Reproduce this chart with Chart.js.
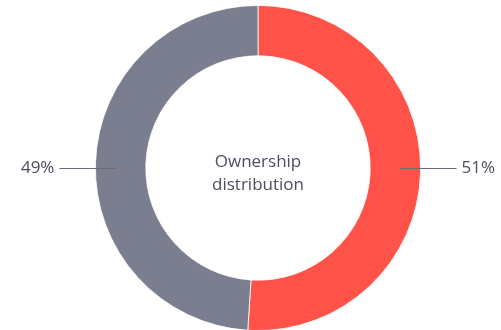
<!DOCTYPE html>
<html>
<head>
<meta charset="utf-8">
<script src="https://cdn.jsdelivr.net/npm/chart.js@4.4.1/dist/chart.umd.min.js"></script>
<style>
  html, body { margin: 0; padding: 0; background: #fff; overflow: hidden; }
  #wrap { width: 501px; height: 340px; position: relative; }
</style>
</head>
<body>
<div id="wrap"><canvas id="ownershipChart"></canvas></div>
<script>
const categories = ['Owner A', 'Owner B'];
const shares = [51, 49];
const sliceColors = ['#ff5249', '#7b7e8f'];
const centerLines = ['Ownership', 'distribution'];

const textColor = '#4d4d62';
const fontFamily = '"Open Sans", "Noto Sans", sans-serif';

// leader lines + percentage labels, drawn horizontally from the ring
const sideLabels = {
  id: 'sideLabels',
  afterDatasetsDraw(chart) {
    const { ctx } = chart;
    const meta = chart.getDatasetMeta(0);
    ctx.save();
    meta.data.forEach((arc, i) => {
      const { x, y, startAngle, endAngle, innerRadius, outerRadius } = arc.getProps(
        ['x', 'y', 'startAngle', 'endAngle', 'innerRadius', 'outerRadius'], true);
      const mid = (startAngle + endAngle) / 2;
      const side = Math.cos(mid) >= 0 ? 1 : -1;
      const r0 = innerRadius + (outerRadius - innerRadius) * 0.58;
      const r1 = outerRadius + 36;
      ctx.strokeStyle = '#6b6b7a';
      ctx.lineWidth = 1;
      ctx.beginPath();
      ctx.moveTo(x + side * r0, y + 0.5);
      ctx.lineTo(x + side * r1, y + 0.5);
      ctx.stroke();
      ctx.fillStyle = textColor;
      ctx.font = '17px ' + fontFamily;
      ctx.textBaseline = 'middle';
      ctx.textAlign = side > 0 ? 'left' : 'right';
      ctx.fillText(shares[i] + '%', x + side * (r1 + 5), y);
    });
    ctx.restore();
  }
};

const centerText = {
  id: 'centerText',
  afterDraw(chart) {
    const { ctx } = chart;
    const arc = chart.getDatasetMeta(0).data[0];
    ctx.save();
    ctx.fillStyle = textColor;
    ctx.font = '17px ' + fontFamily;
    ctx.textAlign = 'center';
    ctx.textBaseline = 'middle';
    centerLines.forEach((line, i) => {
      ctx.fillText(line, arc.x, arc.y - 6 + i * 23);
    });
    ctx.restore();
  }
};

new Chart(document.getElementById('ownershipChart'), {
  type: 'doughnut',
  data: {
    labels: categories,
    datasets: [{
      data: shares,
      backgroundColor: sliceColors,
      borderColor: '#ffffff',
      borderWidth: 0.8,
      hoverOffset: 0
    }]
  },
  options: {
    responsive: true,
    maintainAspectRatio: false,
    animation: false,
    cutout: '69%',
    layout: { padding: { top: 5, bottom: 9, left: 15, right: 0 } },
    plugins: {
      legend: { display: false },
      tooltip: { enabled: false }
    }
  },
  plugins: [sideLabels, centerText]
});
</script>
</body>
</html>
